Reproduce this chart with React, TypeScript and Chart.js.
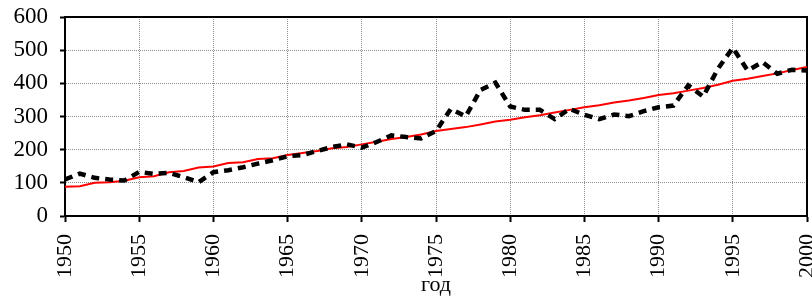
import React, { useEffect, useRef } from "react";
import { Chart, registerables } from "chart.js";

Chart.register(...registerables);

const years: number[] = [
  1950, 1951, 1952, 1953, 1954, 1955, 1956, 1957, 1958, 1959,
  1960, 1961, 1962, 1963, 1964, 1965, 1966, 1967, 1968, 1969,
  1970, 1971, 1972, 1973, 1974, 1975, 1976, 1977, 1978, 1979,
  1980, 1981, 1982, 1983, 1984, 1985, 1986, 1987, 1988, 1989,
  1990, 1991, 1992, 1993, 1994, 1995, 1996, 1997, 1998, 1999, 2000,
];

const observed: number[] = [
  110, 128, 115, 110, 107, 133, 127, 130, 117, 102,
  132, 138, 147, 158, 168, 180, 184, 196, 208, 216,
  206, 223, 243, 238, 234, 256, 323, 300, 380, 402,
  330, 320, 320, 292, 323, 305, 292, 306, 301, 316,
  328, 333, 394, 360, 444, 507, 439, 464, 429, 441, 439,
];

const trend: number[] = [
  88, 90, 100, 102, 106, 117, 120, 132, 136, 146,
  149, 160, 162, 172, 174, 184, 190, 196, 204, 208,
  216, 224, 232, 238, 246, 256, 262, 268, 276, 285,
  290, 298, 304, 312, 320, 328, 334, 342, 348, 356,
  365, 370, 378, 386, 396, 408, 414, 422, 430, 440, 449,
];

const xTicks: number[] = [1950, 1955, 1960, 1965, 1970, 1975, 1980, 1985, 1990, 1995, 2000];
const yTicks: number[] = [0, 100, 200, 300, 400, 500, 600];
const xTitle = "год";

const FONT = "'Liberation Serif', 'Times New Roman', serif";

const framePlugin = {
  id: "frame",
  beforeDatasetsDraw(chart: any) {
    const { ctx, chartArea } = chart;
    ctx.save();
    ctx.strokeStyle = "#000";
    ctx.lineWidth = 2;
    ctx.beginPath();
    ctx.moveTo(chartArea.left, chartArea.top);
    ctx.lineTo(chartArea.right, chartArea.top);
    ctx.lineTo(chartArea.right, chartArea.bottom);
    ctx.stroke();
    ctx.restore();
  },
};

export default function App() {
  const ref = useRef<HTMLCanvasElement | null>(null);

  useEffect(() => {
    document.body.style.margin = "0";
    if (!ref.current) return;
    const chart = new Chart(ref.current, {
      type: "line",
      data: {
        datasets: [
          {
            label: "observed",
            data: years.map((y, i) => ({ x: y, y: observed[i] })),
            borderColor: "#000",
            borderWidth: 4.5,
            borderDash: [8, 6],
            pointRadius: 0,
            tension: 0,
            fill: false,
          },
          {
            label: "trend",
            data: years.map((y, i) => ({ x: y, y: trend[i] })),
            borderColor: "#ff0000",
            borderWidth: 2,
            pointRadius: 0,
            tension: 0,
            fill: false,
          },
        ],
      },
      options: {
        animation: false,
        responsive: false,
        events: [],
        layout: { padding: { top: 17, right: 5, left: 0, bottom: 0 } },
        plugins: {
          legend: { display: false },
          tooltip: { enabled: false },
          title: { display: false },
        },
        scales: {
          x: {
            type: "linear",
            min: 1950,
            max: 2000,
            afterBuildTicks: (scale: any) => {
              scale.ticks = xTicks.map((v) => ({ value: v }));
            },
            afterFit: (scale: any) => {
              scale.height = 84;
              scale.paddingLeft = 0;
              scale.paddingRight = 0;
            },
            ticks: {
              autoSkip: false,
              minRotation: 90,
              maxRotation: 90,
              padding: 12,
              color: "#000",
              font: { family: FONT, size: 22 },
              callback: (v: any) => String(v),
            },
            grid: {
              color: "#8c8c8c",
              lineWidth: 1,
              tickLength: 6,
              tickColor: "#000",
              tickWidth: 2,
            },
            border: { display: true, color: "#000", width: 2, dash: [1, 1] },
            title: {
              display: true,
              text: xTitle,
              color: "#000",
              font: { family: FONT, size: 22 },
              padding: { top: 0, bottom: 2 },
            },
          },
          y: {
            type: "linear",
            min: 0,
            max: 600,
            afterBuildTicks: (scale: any) => {
              scale.ticks = yTicks.map((v) => ({ value: v }));
            },
            afterFit: (scale: any) => {
              scale.width = 65;
              scale.paddingTop = 0;
              scale.paddingBottom = 0;
            },
            ticks: {
              padding: 12,
              color: "#000",
              font: { family: FONT, size: 23 },
              callback: (v: any) => String(v),
            },
            grid: {
              color: "#8c8c8c",
              lineWidth: 1,
              tickLength: 5,
              tickColor: "#000",
              tickWidth: 2,
            },
            border: { display: true, color: "#000", width: 2, dash: [1, 1] },
          },
        },
      },
      plugins: [framePlugin],
    } as any);
    return () => chart.destroy();
  }, []);

  return (
    <div style={{ width: 812, height: 300 }}>
      <canvas ref={ref} width={812} height={300} style={{ display: "block" }} />
    </div>
  );
}
